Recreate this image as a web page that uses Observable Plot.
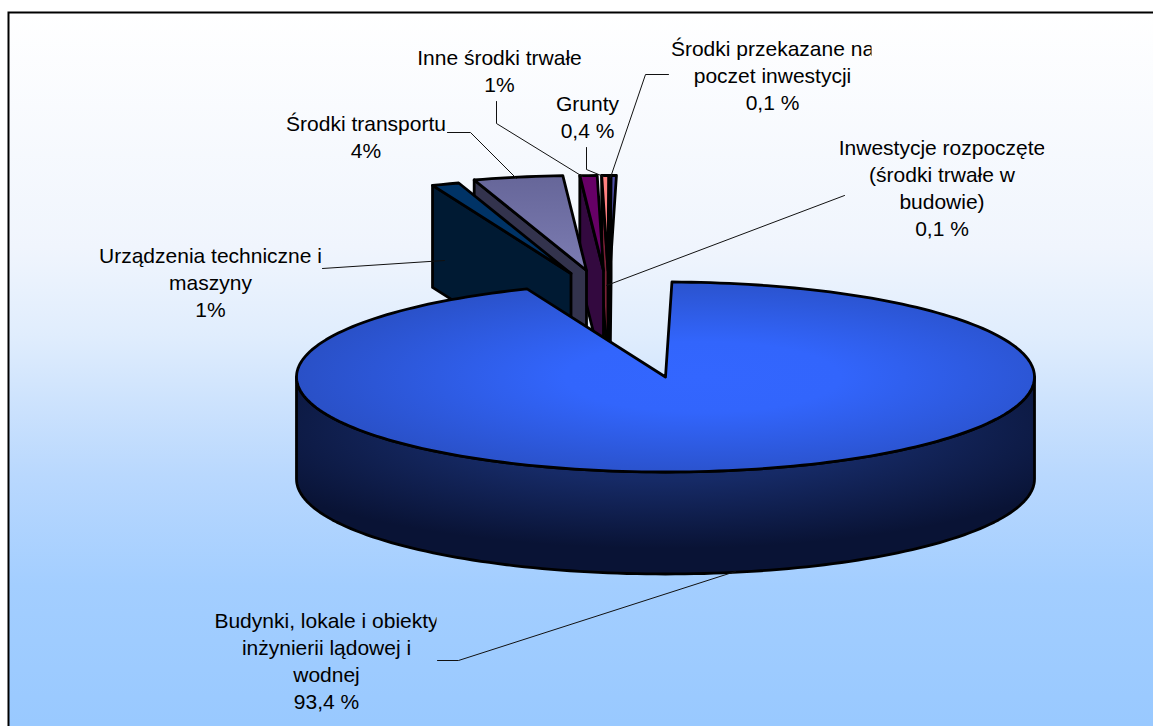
<!DOCTYPE html>
<html lang="pl"><head><meta charset="utf-8">
<style>html,body{margin:0;padding:0;background:#fff;overflow:hidden}</style>
<script src="https://cdn.jsdelivr.net/npm/d3@7"></script>
<script src="https://cdn.jsdelivr.net/npm/@observablehq/plot@0.6"></script>
</head><body><div id="chart"></div>
<script>
const categories = ["Budynki","Urządzenia","Środki transportu","Inne środki trwałe","Grunty","Inwestycje","Środki przekazane"];
const shares = [93.6, 1.2, 3.9, 0.75, 0.3, 0.02, 0.23];
const labelTexts = [
  "Budynki, lokale i obiekty\ninżynierii lądowej i\nwodnej\n93,4 %",
  "Urządzenia techniczne i\nmaszyny\n1%",
  "Środki transportu\n4%",
  "Inne środki trwałe\n1%",
  "Grunty\n0,4 %",
  "Inwestycje rozpoczęte\n(środki trwałe w\nbudowie)\n0,1 %",
  "Środki przekazane na\npoczet inwestycji\n0,1 %"
];

// Layout
const cx = 665, cy = 376.5, rx = 369, ry = 95, depth = 102 / ry, startAngle = 1;
const ux = px => (px - cx) / rx, uy = py => (py - cy) / ry;
const apexPx = [[665,376.5],[570.5,273],[586,270],[603,270],[607.5,270],[608.5,270],[609.5,270]];
const labelPos = [[326,659.5],[210,280.5],[365.5,135.5],[499,69.5],[587,115.5],[941.5,186.5],[772,74]];
const labelClip = [436,322,447,null,null,1044,871];
const leaders = [
  [[437,660],[458,660],[735,571]],
  [[322,268],[444,260]],
  [[447,132],[470,132],[516,178]],
  [[496,101],[496,123],[582,176]],
  [[586,147],[586,169],[603,176]],
  [[844,195],[606,285]],
  [[668,74],[645,74],[610,177]]
];
const topFill = ["url(#mainTop)","#003366","url(#transTop)","#660066","#FF8080","#2a2a80","#5050A8"];
const wallFill = ["url(#mainWall)","#001a33","#33334d","#33093f","#7a2036","#101040","#26265e"];

// Geometry derived from the shares
let acc = startAngle;
const slices = shares.map((s, i) => {
  const a0 = acc, a1 = acc + s * 3.6; acc = a1;
  return {i, a0, a1, ax: ux(apexPx[i][0]), ay: uy(apexPx[i][1])};
});
const rad = Math.PI / 180;
const arc = (a0, a1, ox, oy) => {
  const n = Math.max(2, Math.ceil(Math.abs(a1 - a0) / 1.5));
  return d3.range(n + 1).map(k => {
    const a = (a0 + (a1 - a0) * k / n) * rad;
    return [ox + Math.sin(a), oy - Math.cos(a)];
  });
};
const poly = (pts, fill, w = 2.8) => Plot.line([...pts, pts[0]], {
  x: d => d[0], y: d => d[1], fill, stroke: "#000", strokeWidth: w, strokeLinejoin: "round", curve: "linear"
});
const marks = [Plot.frame({fill: "url(#bg)", stroke: "#000", strokeWidth: 2})];
// exploded slices, right to left so the left ones sit on top
for (const s of slices.slice(1).reverse()) {
  const {ax, ay, a0, a1, i} = s;
  const r0 = arc(a0, a0, ax, ay)[0];
  marks.push(poly([r0, [ax, ay], [ax, ay + depth], [r0[0], r0[1] + depth]], wallFill[i]));
  marks.push(poly([[ax, ay], ...arc(a0, a1, ax, ay)], topFill[i]));
}
// main slice
const m = slices[0];
const front = arc(90, 270, 0, 0);
marks.push(poly([...front, ...front.slice().reverse().map(p => [p[0], p[1] + depth])], wallFill[0]));
marks.push(poly([[0, 0], ...arc(m.a0, m.a1, 0, 0)], topFill[0]));
// leaders
leaders.forEach(l => marks.push(Plot.line(l.map(p => [ux(p[0]), uy(p[1])]), {
  x: d => d[0], y: d => d[1], stroke: "#111", strokeWidth: 1, curve: "linear"
})));
// labels
const labelData = labelTexts.map((t, i) => ({t, x: ux(labelPos[i][0]), y: uy(labelPos[i][1])}));
marks.push(Plot.text(labelData, {
  x: "x", y: "y", text: "t", fill: "#000", textAnchor: "middle", lineAnchor: "middle",
  lineHeight: 1.29, fontSize: 21, fontFamily: "Liberation Sans"
}));

const svg = Plot.plot({
  width: 1153, height: 726,
  marginLeft: 8, marginTop: 12, marginRight: -20, marginBottom: -20,
  x: {axis: null, domain: [ux(8), ux(1153)], range: [8, 1153]},
  y: {axis: null, domain: [uy(12), uy(726)], range: [12, 726]},
  style: {background: "#fff", display: "block"},
  marks
});
const defs = `<defs>
<linearGradient id="bg" x1="0" y1="0" x2="0" y2="1"><stop offset="0" stop-color="#fff"/><stop offset=".32" stop-color="#F0F5FD"/><stop offset=".44" stop-color="#E0EDFD"/><stop offset=".535" stop-color="#CCE2FD"/><stop offset=".63" stop-color="#B9D8FE"/><stop offset=".78" stop-color="#A3CEFF"/><stop offset=".97" stop-color="#99C9FF"/></linearGradient>
<radialGradient id="mainTop" cx=".55" cy=".5" r=".62"><stop offset="0" stop-color="#3366FF"/><stop offset=".3" stop-color="#3265FC"/><stop offset="1" stop-color="#284CBC"/></radialGradient>
<radialGradient id="mainWall" cx=".5" cy=".25" r=".62"><stop offset="0" stop-color="#1A3070"/><stop offset=".45" stop-color="#162A66"/><stop offset="1" stop-color="#091335"/></radialGradient>
<linearGradient id="transTop" x1="0" y1="0" x2="0" y2="1"><stop offset="0" stop-color="#666699"/><stop offset="1" stop-color="#7C7CB2"/></linearGradient>
${labelClip.map((c, i) => c == null ? "" : `<clipPath id="lc${i}" clipPathUnits="userSpaceOnUse"><rect x="-600" y="-400" width="${600 + c - labelPos[i][0]}" height="800"/></clipPath>`).join("")}
</defs>`;
svg.insertAdjacentHTML("afterbegin", defs);
svg.querySelectorAll("text").forEach(t => {
  const i = labelTexts.findIndex(l => l.split("\n")[0] === (t.querySelector("tspan")?.textContent ?? t.textContent));
  if (i >= 0 && labelClip[i] != null) t.setAttribute("clip-path", `url(#lc${i})`);
});
document.getElementById("chart").appendChild(svg);
</script></body></html>
